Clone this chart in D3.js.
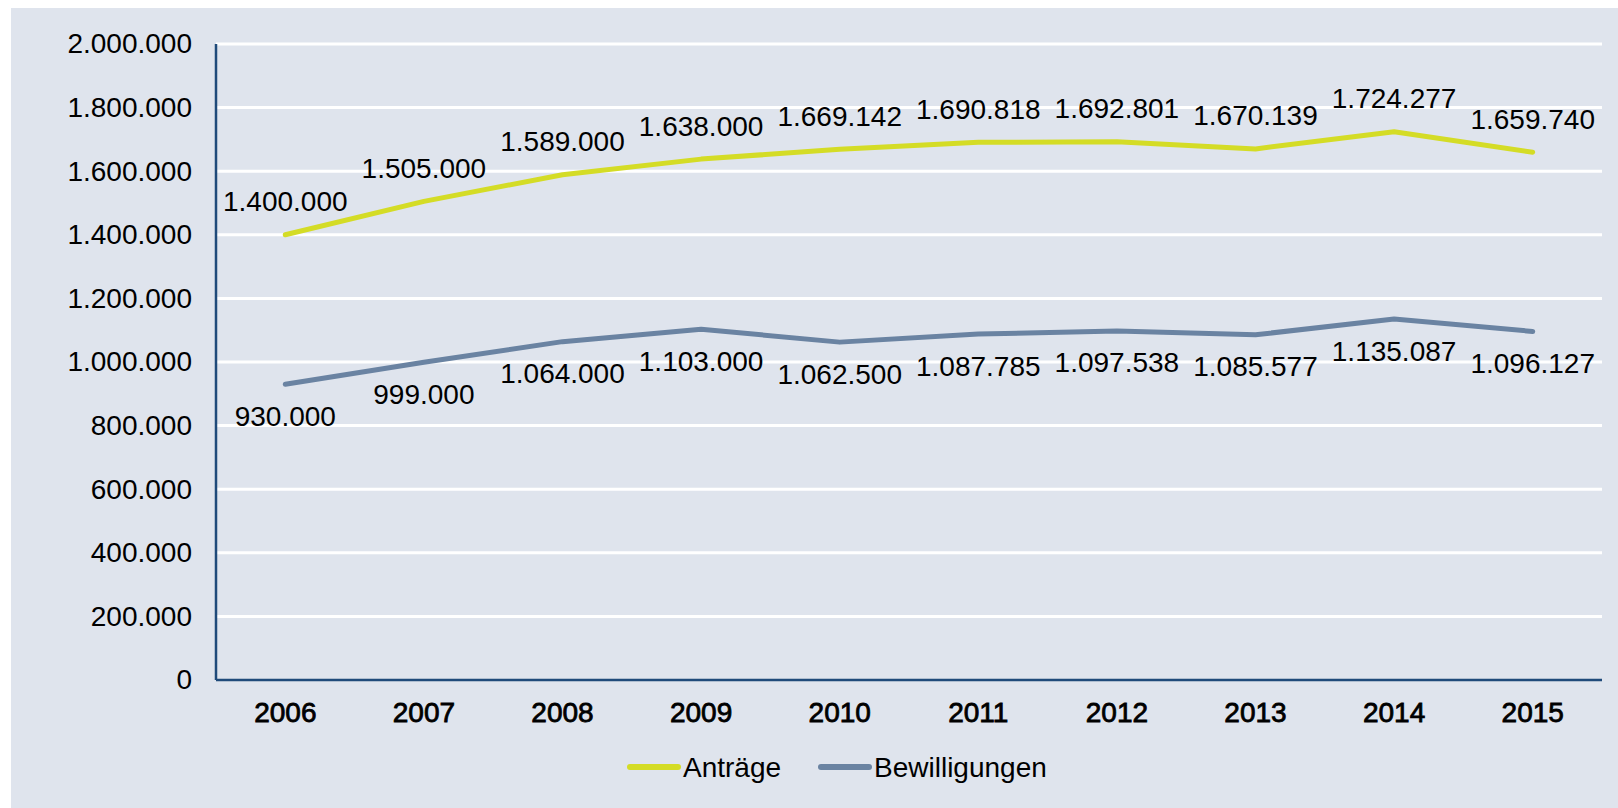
<!DOCTYPE html>
<html>
<head>
<meta charset="utf-8">
<script src="https://cdn.jsdelivr.net/npm/d3@7"></script>
<style>
  html, body { margin: 0; padding: 0; background: #ffffff; }
  svg { display: block; }
  text { font-family: "Liberation Sans", Arial, sans-serif; fill: #000; }
</style>
</head>
<body>
<svg id="chart" width="1618" height="808"></svg>
<script>
const years = ["2006","2007","2008","2009","2010","2011","2012","2013","2014","2015"];
const antraege = [1400000, 1505000, 1589000, 1638000, 1669142, 1690818, 1692801, 1670139, 1724277, 1659740];
const bewilligungen = [930000, 999000, 1064000, 1103000, 1062500, 1087785, 1097538, 1085577, 1135087, 1096127];
const yTicks = [0, 200000, 400000, 600000, 800000, 1000000, 1200000, 1400000, 1600000, 1800000, 2000000];
const seriesNames = ["Anträge", "Bewilligungen"];

(function () {
const colors = { antraege: "#d4dc26", bewilligungen: "#6a83a2" };
const fmt = v => d3.format(",")(v).replace(/,/g, ".");

const svg = d3.select("#chart");
svg.append("rect").attr("x", 11).attr("y", 8).attr("width", 1618 - 11).attr("height", 808 - 8).attr("fill", "#dfe4ed");

const pLeft = 216, pRight = 1602, pTop = 44, pBottom = 680;
const x = d3.scaleBand().domain(years).range([pLeft, pRight]);
const y = d3.scaleLinear().domain([0, 2000000]).range([pBottom, pTop]);
const cx = d => x(d) + x.bandwidth() / 2;

// gridlines
svg.append("g").selectAll("line").data(yTicks.filter(t => t > 0)).join("line")
  .attr("x1", pLeft).attr("x2", pRight)
  .attr("y1", d => y(d)).attr("y2", d => y(d))
  .attr("stroke", "#ffffff").attr("stroke-width", 3);

// y axis labels
const yAxis = d3.axisLeft(y).tickValues(yTicks).tickFormat(fmt).tickSize(0).tickPadding(24);
const yg = svg.append("g").attr("transform", `translate(${pLeft},0)`).call(yAxis);
yg.select(".domain").remove();
yg.selectAll("text").attr("font-size", 28).attr("font-family", "Liberation Sans, Arial, sans-serif").attr("fill", "#000");

// x axis labels
const xAxis = d3.axisBottom(x).tickSize(0).tickPadding(22);
const xg = svg.append("g").attr("transform", `translate(0,${pBottom})`).call(xAxis);
xg.select(".domain").remove();
xg.selectAll("text").attr("font-size", 28).attr("font-family", "Liberation Sans, Arial, sans-serif")
  .attr("fill", "#000").attr("stroke", "#000").attr("stroke-width", 0.8);

// axis lines
svg.append("line").attr("x1", pLeft).attr("x2", pLeft).attr("y1", pTop).attr("y2", pBottom)
  .attr("stroke", "#1f4a7a").attr("stroke-width", 2.5);
svg.append("line").attr("x1", pLeft).attr("x2", pRight).attr("y1", pBottom).attr("y2", pBottom)
  .attr("stroke", "#1f4a7a").attr("stroke-width", 2.5);

const line = d3.line().x((d, i) => cx(years[i])).y(d => y(d));

svg.append("path").datum(antraege).attr("d", line)
  .attr("fill", "none").attr("stroke", colors.antraege).attr("stroke-width", 5)
  .attr("stroke-linejoin", "round").attr("stroke-linecap", "round");
svg.append("path").datum(bewilligungen).attr("d", line)
  .attr("fill", "none").attr("stroke", colors.bewilligungen).attr("stroke-width", 5)
  .attr("stroke-linejoin", "round").attr("stroke-linecap", "round");

// data labels
svg.append("g").selectAll("text").data(antraege).join("text")
  .attr("x", (d, i) => cx(years[i]))
  .attr("y", d => y(d) - 33)
  .attr("text-anchor", "middle").attr("dominant-baseline", "central")
  .attr("font-size", 28)
  .text(d => fmt(d));
svg.append("g").selectAll("text").data(bewilligungen).join("text")
  .attr("x", (d, i) => cx(years[i]))
  .attr("y", d => y(d) + 32)
  .attr("text-anchor", "middle").attr("dominant-baseline", "central")
  .attr("font-size", 28)
  .text(d => fmt(d));

// legend
const legend = [
  { name: seriesNames[0], color: colors.antraege, x0: 630 },
  { name: seriesNames[1], color: colors.bewilligungen, x0: 821 }
];
const lg = svg.append("g");
legend.forEach(l => {
  lg.append("line").attr("x1", l.x0).attr("x2", l.x0 + 48).attr("y1", 767).attr("y2", 767)
    .attr("stroke", l.color).attr("stroke-width", 6).attr("stroke-linecap", "round");
  lg.append("text").attr("x", l.x0 + 53).attr("y", 767).attr("dominant-baseline", "central")
    .attr("font-size", 28).text(l.name);
});
})();
</script>
</body>
</html>
